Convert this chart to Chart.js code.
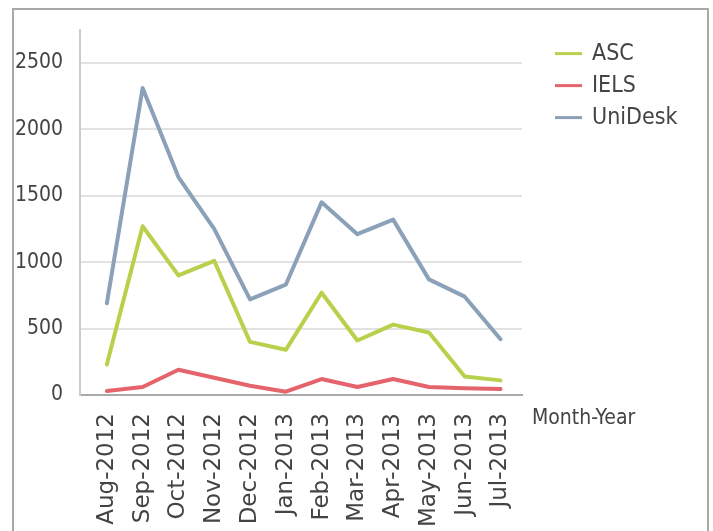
<!DOCTYPE html>
<html>
<head>
<meta charset="utf-8">
<script src="https://cdn.jsdelivr.net/npm/chart.js@4.4.0/dist/chart.umd.min.js"></script>
<style>
  html, body { margin: 0; padding: 0; background: #fff; }
  #wrap { position: relative; width: 713px; height: 531px; overflow: hidden; }
  #frame {
    position: absolute; left: 12px; top: 8px; width: 693px; height: 600px;
    border: 2px solid #a8a8a8; pointer-events: none;
  }
</style>
</head>
<body>
<div id="wrap">
  <canvas id="myChart"></canvas>
  <div id="frame"></div>
</div>
<script>
// data
const months = ["Aug-2012", "Sep-2012", "Oct-2012", "Nov-2012", "Dec-2012", "Jan-2013",
  "Feb-2013", "Mar-2013", "Apr-2013", "May-2013", "Jun-2013", "Jul-2013"];
const ascValues = [230, 1270, 900, 1010, 400, 340, 770, 410, 530, 470, 140, 110];
const ielsValues = [30, 60, 190, 130, 70, 25, 120, 60, 120, 60, 50, 45];
const unideskValues = [690, 2310, 1640, 1250, 720, 830, 1450, 1210, 1320, 870, 740, 420];
const yTicks = [0, 500, 1000, 1500, 2000, 2500];
const xTitle = "Month-Year";

const narrow = "'Liberation Sans Narrow', 'DejaVu Sans Condensed', 'Arial Narrow', sans-serif";
const textColor = "#444";

// turn a value list into {x, y} points on the month index
function toPoints(values) {
  return values.map((v, i) => ({ x: i, y: v }));
}

// legend and axis title drawn next to the plot, like the original
const sideText = {
  id: "sideText",
  afterDraw(chart) {
    const ctx = chart.ctx;
    const area = chart.chartArea;
    const x0 = area.right + 33;
    ctx.save();
    ctx.font = "23px " + narrow;
    ctx.textBaseline = "middle";
    ctx.textAlign = "left";
    chart.data.datasets.forEach((ds, i) => {
      const y = area.top + 24 + i * 32;
      ctx.strokeStyle = ds.borderColor;
      ctx.lineWidth = 3;
      ctx.beginPath();
      ctx.moveTo(x0, y);
      ctx.lineTo(x0 + 27, y);
      ctx.stroke();
      ctx.fillStyle = textColor;
      ctx.fillText(ds.label, x0 + 37, y);
    });
    ctx.font = "21px " + narrow;
    ctx.fillText(xTitle, area.right + 10, area.bottom + 24);
    ctx.restore();
  },
};

const chartContext = document.getElementById("myChart").getContext("2d");

const chart = new Chart(chartContext, {
  type: "line",
  data: {
    datasets: [
      { label: "ASC", data: toPoints(ascValues), borderColor: "#b8d14c" },
      { label: "IELS", data: toPoints(ielsValues), borderColor: "#e5646b" },
      { label: "UniDesk", data: toPoints(unideskValues), borderColor: "#8aa1b8" },
    ],
  },
  options: {
    responsive: true,
    maintainAspectRatio: false,
    animation: false,
    elements: {
      line: { borderWidth: 4, tension: 0, borderJoinStyle: "round", borderCapStyle: "round" },
      point: { radius: 0, hoverRadius: 0 },
    },
    layout: { padding: { left: 10, top: 28, right: 191, bottom: 0 } },
    plugins: {
      legend: { display: false },
      tooltip: { enabled: false },
    },
    scales: {
      x: {
        type: "linear",
        min: -0.75,
        max: 11.6,
        grid: { display: false, drawTicks: false },
        border: { color: "#aaaaaa", width: 2 },
        ticks: {
          autoSkip: false,
          minRotation: 90,
          maxRotation: 90,
          padding: 18,
          color: textColor,
          font: { family: "'DejaVu Sans', sans-serif", size: 23 },
          callback: (value) => months[value],
        },
        afterBuildTicks: (scale) => {
          scale.ticks = months.map((m, i) => ({ value: i }));
        },
        afterFit: (scale) => { scale.height = 136; },
      },
      y: {
        min: 0,
        max: 2750,
        grid: { color: "#e2e2e2", lineWidth: 2, drawTicks: false },
        border: { color: "#cccccc", width: 2 },
        ticks: {
          padding: 17,
          color: textColor,
          font: { family: narrow, size: 21 },
          callback: (value) => String(value),
        },
        afterBuildTicks: (scale) => {
          scale.ticks = yTicks.map((v) => ({ value: v }));
        },
        afterFit: (scale) => { scale.width = 70; },
      },
    },
  },
  plugins: [sideText],
});
</script>
</body>
</html>
